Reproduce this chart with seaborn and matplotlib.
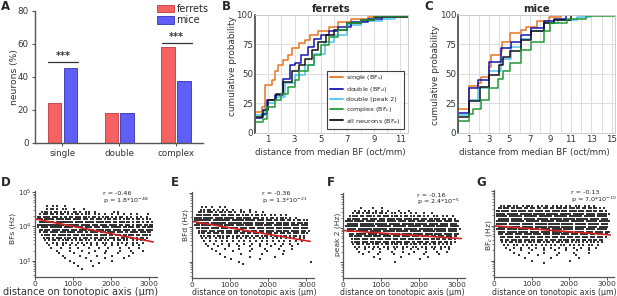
import numpy as np
import pandas as pd
import seaborn as sns
from matplotlib import pyplot as plt
from matplotlib.lines import Line2D
from matplotlib.patches import Patch

W, H = 617, 296

# ---- panel A: response types ----
categories = ["single", "double", "complex"]
ferrets_pct = [24.2, 17.8, 58.0]
mice_pct = [45.3, 17.8, 37.2]

# ---- panels B/C: cumulative distributions (x in oct/mm, y in %) ----
b_single_x = [0, 0.5, 0.76, 1.26, 1.5, 1.77, 2.15, 2.5, 2.8, 3.3, 3.8, 4.2, 4.8, 5.6, 6.3, 7.3, 8.6, 9.3, 11.6]
b_single_y = [18, 22, 40.5, 45, 52, 57.5, 62, 66, 72, 76, 79, 83, 86, 90, 94, 97, 98.6, 100, 100]
b_double_x = [0, 0.5, 0.9, 1.5, 2.1, 2.65, 3.0, 3.5, 4.0, 4.5, 5.0, 5.6, 6.3, 7.3, 8.6, 9.6, 11.6]
b_double_y = [12.5, 16, 28, 32, 46, 57.5, 59, 66, 73, 80, 83, 86, 90, 94, 97, 99, 100]
b_peak2_x = [0, 0.75, 1.5, 2.3, 3.0, 3.8, 4.5, 5.3, 6.0, 7.0, 8.0, 9.6, 10.6, 11.6]
b_peak2_y = [15, 25, 30.6, 42, 49, 57.5, 67, 77, 83, 91.5, 95, 97, 99, 100]
b_complex_x = [0, 0, 0.6, 0.9, 1.5, 2.0, 2.5, 3.0, 3.3, 4.0, 4.5, 5.0, 5.6, 6.3, 7.0, 8.0, 9.0, 11.6]
b_complex_y = [0, 9, 12, 22, 28, 33, 39, 45, 52, 57.5, 66, 74.5, 81.6, 87, 93, 96, 99, 100]
b_all_x = [0, 0.6, 1.0, 1.6, 2.1, 2.8, 3.3, 3.8, 4.3, 4.8, 5.4, 6.0, 7.0, 8.0, 9.0, 11.6]
b_all_y = [13, 19, 28, 33, 43, 52, 57.5, 63, 70, 77, 83, 87, 93, 96, 98.6, 100]

c_single_x = [0, 1.0, 1.9, 2.2, 3.0, 3.2, 4.2, 4.3, 5.1, 6.1, 6.6, 7.7, 8.9, 10.0, 15.3]
c_single_y = [20, 39.7, 42, 47.6, 56, 66, 69, 77, 84.4, 87, 90, 94.6, 98, 100, 100]
c_double_x = [0, 1.0, 1.9, 3.0, 4.2, 5.2, 6.1, 7.1, 8.4, 9.4, 10.5, 15.3]
c_double_y = [17, 38, 45, 60, 71.7, 77, 83, 88.7, 94.6, 97, 100, 100]
c_peak2_x = [0, 1.0, 1.9, 3.0, 4.2, 5.2, 6.1, 7.1, 8.4, 9.7, 11.6, 13.0, 15.3]
c_peak2_y = [15, 28, 38, 52, 63, 73, 80, 86, 93, 96, 98.6, 100, 100]
c_complex_x = [0, 0, 1.0, 1.4, 2.2, 3.0, 3.9, 4.4, 5.1, 6.1, 7.1, 8.4, 9.0, 10.6, 12.5, 15.3]
c_complex_y = [0, 10, 16, 20, 28, 38, 46, 52, 59, 70, 77, 86, 93, 97, 99, 100]
c_all_x = [0, 1.0, 2.1, 3.0, 4.0, 4.4, 5.1, 6.1, 7.1, 8.4, 9.4, 11.0, 15.3]
c_all_y = [13, 27, 39, 49, 57.5, 64.6, 69, 79, 86, 93, 96, 100, 100]

# ---- panels D-G: BF vs. tonotopic position ----
# frequency of each row of dots (Hz), top to bottom
row_freqs = [38055, 32000, 26909, 22627, 19027, 16000, 13454, 11314, 9514, 8000,
             6727, 5657, 4757, 4000, 3364, 2828, 2378, 2000, 1682, 1414,
             1189, 1000, 841, 707, 595, 500]
# one character per 50 um along the tonotopic axis ('#' = a neuron)
d_rows = [
    "......#..#.#...#..............................................",
    "......#.##.#..#.#...#....#....................................",
    "...#.##.#.##.#.#.#..##.#..#.#..#.........#.#..................",
    "..#.###.##.#.##..#.#.##.#.#.#..#.#..#...#..#..#...#..#.....#...",
    ".##.####.###.#.##.##.###.##.#.##.#.#.##.#.#.##..#.#..#.#..#....",
    ".###.#####.####.###.####.###.##.###.#.##.##.#.#.##.#.##.#.#.#..",
    "..########.#########.####.#####.####.###.##.###.##.#.##.#.##.#.",
    ".##############.#######.#####.###.####.####.##.###.#.###.##.##.",
    ".#.####.######.#####.####.####.###.####.#####.##.###.##.##.###.",
    "..##.###.####.####.###.####.###.####.###.####.####.##.###.####.",
    "..#.###.####.###.####.###.##.####.###.####.###.##.####.###.##.",
    "...#.###.##.####.##.###.##.###.##.####.##.###.##.###.##.###.#.",
    "....#.##.#.###.#.##.##.#.###.#.##.##.#.###.#.##.#.##.#.##.#...",
    ".....#.#.##.#.#.##.#.#.##.#.#..#.##.#.#..#.##.#.#..#.#.#.#....",
    "......#..#.#..#.#..#..#.#..#.#..#..#.#..#..#.#..#..#.#..#.....",
    ".......#...#..#...#..#...#...#..#...#...#..#...#...#..#........",
    "........#....#....#...#.....#....#....#.....#....#....#........",
    "...........#......#.....#......#.....#......#.....#.....#......",
    "............#.......#.......#.......#......#.......#...........",
    "..............#........#........#.......#........#.............",
    "...............#..........#.........#.........#...............",
    "..................#..........#..........#.....................",
    "....................#............#.............................",
    "......................#.......#...............................",
    "........................#.....................................",
    "..............................................................",
]
e_rows = [
    ".....#.#..#...#..#............................................",
    "....#.#.##.#.#..#.#..#...#....#...............................",
    "...##.#.###.#.##.#.##.#..#.#..#..#...#.........................",
    "..###.####.###.###.###.##.#.##.#.##.#.#..#.#..#..#.............",
    ".####.#####.####.#####.###.####.###.##.#.##.#.##.#.#..#........",
    ".#########.#########.######.#####.####.###.##.###.##.#.##.#.#..",
    "..#######.########.#######.#####.#####.####.###.###.##.###.##..",
    ".###.#####.#####.#####.####.####.####.####.####.###.####.####..",
    "..##.####.####.####.####.####.###.####.####.###.####.###.####..",
    "...#.###.###.####.###.###.####.###.###.####.###.###.####.###.#.",
    "...#.##.##.###.##.###.##.###.##.###.##.###.##.###.##.###.##.#..",
    "....#.#.##.#.##.#.##.#.##.#.##.#.##.#.##.#.##.#.##.#.##.#.#....",
    ".....#.#.#..#.#.#.#..#.#.#..#.#.#..#.#.#..#.#.#..#.#.#..#.#....",
    "......#..#..#..#..#..#..#..#..#..#..#..#..#..#..#..#..#..#.....",
    ".......#...#...#...#...#...#...#...#...#...#...#...#...#........",
    "........#....#.....#....#.....#....#.....#....#.....#...........",
    "..........#......#......#......#......#......#......#...........",
    "............#........#........#........#........#...............",
    "..............#..........#..........#..........#...............",
    ".................#............#............#...................",
    "....................#..............#...........................",
    "........................#.....................................#",
    "..........................#....................................",
    "..............................................................",
    "..............................................................",
    "..............................................................",
]
f_rows = [
    ".........#.....#....#.........................................",
    "......#.#..#.#...#..#..#.....#....#...........................",
    ".....#.##.#.##.#.#.##.#..#.#..#.#..#..#...#...#...............",
    "...#.###.##.###.#.##.###.#.##.#.##.#.#.##.#.#..#.#..#.#..#....",
    "..##.####.###.####.###.####.###.####.###.###.##.###.##.##.#....",
    ".####.#####.#####.####.#####.####.####.####.####.###.####.###..",
    "..######.#######.######.######.######.######.#####.####.####...",
    ".#######.########.#######.#######.#######.######.######.#####..",
    "..#####.#######.#######.#######.#######.#######.######.#####.#.",
    "..####.######.######.######.######.######.######.#####.#####...",
    "...###.#####.#####.#####.#####.#####.#####.####.####.####.###..",
    "...##.####.####.####.####.####.####.####.####.###.###.###.##...",
    "....#.###.###.###.###.###.###.###.###.###.###.##.##.##.##.#....",
    "....#.###.###.##.###.###.##.###.###.##.###.##.###.##.##.#.#....",
    ".....#.##.#.##.#.##.#.##.#.##.#.##.#.##.#.##.#.##.#.#.#.#......",
    "......#.#..#.#..#.#..#.#..#.#..#.#..#.#..#.#..#.#..#.#.#.......",
    ".......#...#...#...#...#...#...#...#...#...#...#...#...#.......",
    "........#....#.....#.....#.....#.....#.....#.....#....#........",
    "..........#.......#.......#.......#.......#.......#............",
    "................#.............#.............#..................",
    "...................#....................#.....................",
    "...........................#...................................",
    "..............................................................",
    "..............................................................",
    "..............................................................",
    "..............................................................",
]
g_rows = [
    "...#.#.##.#.#..#.##.#..#.#.##..#.#.#..#.#..#.#..#.#..#.........",
    "..##.###.##.###.##.###.##.###.##.###.##.###.##.##.##.##.#.#....",
    ".##.####.###.####.###.####.###.####.###.####.###.###.##.##.#...",
    ".#####.######.######.######.######.######.######.#####.#####.#.",
    ".######.#######.#######.#######.#######.#######.######.#####..",
    "..######.######.######.######.######.######.######.#####.####..",
    ".#######.#######.#######.#######.#######.#######.######.######.",
    ".######.######.######.######.######.######.######.######.####..",
    "..#####.######.######.######.######.######.######.#####.#####..",
    ".#####.#####.#####.#####.#####.#####.#####.#####.#####.#####....",
    "..####.#####.#####.#####.#####.#####.#####.#####.####.####.###..",
    "..###.####.####.####.####.####.####.####.####.####.###.###.##...",
    "...###.###.###.###.###.###.###.###.###.###.###.###.###.###.#....",
    "...##.##.###.##.###.##.###.##.###.##.###.##.##.##.##.##.##.....",
    "....#.#.##.#.##.#.##.#.##.#.##.#.##.#.##.#.#.#.#.#.#.#.#.#.....",
    ".....#.#..#.#..#.#..#.#..#.#..#.#..#.#..#.#..#.#..#.#..#.......",
    "......#...#...#...#...#...#...#...#...#...#...#...#...#........",
    "........#.....#.....#.....#.....#.....#.....#.....#............",
    "..........#.......#.......#.......#.......#.......#............",
    ".............#.........#.........#.........#...................",
    "................#.............#..............#.................",
    "....................#...................#......................",
    "..........................#....................................",
    "..............................................................",
    "..............................................................",
    "..............................................................",
]

# regression lines (um, Hz)
fit_x = [0, 3100]
d_fit = [16600, 3550]
e_fit = [14800, 3900]
f_fit = [8500, 4900]
g_fit = [10000, 5500]

stats_text = [("r = -0.46", r"p = 1.8*10$^{-48}$"),
              ("r = -0.36", r"p = 1.3*10$^{-21}$"),
              ("r = -0.16", r"p = 2.4*10$^{-5}$"),
              ("r = -0.13", r"p = 7.0*10$^{-10}$")]

sns.set_theme(style="white")
plt.rcParams['font.family'] = ['DejaVu Sans']
plt.rcParams['mathtext.fontset'] = 'dejavusans'

fig = plt.figure(figsize=(W / 100, H / 100), dpi=100)


def px_axes(l, t, r, b):
    return fig.add_axes([l / W, 1 - b / H, (r - l) / W, (b - t) / H])


def place_label(ax, axis, cx, cy, box):
    # put an axis label with its centre at pixel (cx, cy)
    l, t, r, b = box
    fx = (cx - l) / (r - l)
    fy = (b - cy) / (b - t)
    lab = ax.xaxis if axis == "x" else ax.yaxis
    lab.label.set_va("center")
    lab.label.set_ha("center")
    lab.set_label_coords(fx, fy)


def panel_letter(x, y, s):
    fig.text(x / W, 1 - y / H, s, fontsize=8.5, fontweight='bold', ha='left', va='center')


# ---------------- A ----------------
boxA = (35, 11, 203, 142.7)
axA = px_axes(*boxA)
dfA = pd.DataFrame({"type": categories * 2,
                    "pct": ferrets_pct + mice_pct,
                    "species": ["ferrets"] * 3 + ["mice"] * 3})
sns.barplot(data=dfA, x="type", y="pct", hue="species", ax=axA,
            palette={"ferrets": "#f46262", "mice": "#5f5ff6"}, saturation=1,
            width=0.56, gap=0.15, legend=False, linewidth=0.6)
for bar, ec in zip(axA.patches, ["#c03a3a"] * 3 + ["#3333b0"] * 3):
    bar.set_edgecolor(ec)
axA.set_xlim(-0.48, 2.47)
axA.set_ylim(0, 80)
axA.set_yticks([0, 20, 40, 60, 80])
axA.set_xlabel("")
axA.set_ylabel("neurons (%)", fontsize=6.6, color="#333333")
place_label(axA, "y", 14, 77, boxA)
for s in ["top", "right"]:
    axA.spines[s].set_visible(False)
for s in ["left", "bottom"]:
    axA.spines[s].set_color("#555555")
    axA.spines[s].set_linewidth(1.0)
axA.tick_params(axis="both", labelsize=6.3, length=2.5, width=0.8, colors="#555555",
                labelcolor="#333333", bottom=True, left=True, pad=2)
for xc, yl in [(0, 49), (2, 60.8)]:
    axA.plot([xc - 0.25, xc + 0.27], [yl, yl], color="#333333", lw=0.9)
    axA.text(xc + 0.01, yl + 0.5, "***", ha="center", va="bottom", fontsize=7,
             fontweight="bold", color="#333333")
fig.legend(handles=[Patch(facecolor="#f46262", edgecolor="#c03a3a", lw=0.6, label="ferrets"),
                    Patch(facecolor="#5f5ff6", edgecolor="#3333b0", lw=0.6, label="mice")],
           loc="upper left", bbox_to_anchor=(155 / W, 1 - 2 / H), frameon=False,
           fontsize=7, handlelength=1.8, handleheight=0.85, handletextpad=0.2,
           labelspacing=0.15, borderpad=0.2, borderaxespad=0)
panel_letter(1, 6, "A")

# ---------------- B & C ----------------
cdf_colors = {"single": "#ea7420", "double": "#1515b0", "peak2": "#4cc3ef",
              "complex": "#1f9a36", "all": "#111111"}


def cdf_panel(ax, curves, xmax, title, xticks):
    ax.set_xlim(0, xmax)
    ax.set_ylim(0, 100)
    ax.set_xticks(range(0, int(xmax) + 1))
    ax.set_xticklabels([str(t) if t in xticks else "" for t in range(0, int(xmax) + 1)])
    ax.set_yticks([0, 25, 50, 75, 100])
    ax.grid(True, color="#dddddd", lw=0.7)
    ax.set_axisbelow(True)
    for key in ["peak2", "single", "double", "all", "complex"]:
        xs, ys = curves[key]
        sns.lineplot(x=xs, y=ys, ax=ax, color=cdf_colors[key], lw=1.1,
                     drawstyle="steps-post", sort=False, estimator=None)
    for s in ["top", "right", "bottom"]:
        ax.spines[s].set_color("#cccccc")
        ax.spines[s].set_linewidth(0.7)
    ax.spines["left"].set_color("#555555")
    ax.spines["left"].set_linewidth(1.3)
    ax.tick_params(axis="both", labelsize=6.2, length=0, pad=1.5, labelcolor="#333333")
    ax.set_xlabel("distance from median BF (oct/mm)", fontsize=6.2, color="#333333")
    ax.set_ylabel("cumulative probability", fontsize=6.4, color="#333333")
    ax.set_title(title, fontsize=7.2, fontweight="bold", pad=2.5)


boxB = (255, 15, 408, 132.7)
axB = px_axes(*boxB)
cdf_panel(axB, {"single": (b_single_x, b_single_y), "double": (b_double_x, b_double_y),
                "peak2": (b_peak2_x, b_peak2_y), "complex": (b_complex_x, b_complex_y),
                "all": (b_all_x, b_all_y)}, 11.6, "ferrets", [1, 3, 5, 7, 9, 11])
place_label(axB, "y", 232.5, 66, boxB)
place_label(axB, "x", 330, 152.5, boxB)
handles = [Line2D([], [], color=cdf_colors[k], lw=1.3) for k in ["single", "double", "peak2", "complex", "all"]]
labels = ["single (BF$_s$)", "double (BF$_d$)", "double (peak 2)", "complex (BF$_c$)", "all neurons (BF$_a$)"]
leg = axB.legend(handles, labels, loc="lower right", bbox_to_anchor=(0.975, 0.035),
                 fontsize=4.6, frameon=True, fancybox=False, handlelength=2.1,
                 handletextpad=0.5, labelspacing=0.42, borderpad=0.45, borderaxespad=0)
leg.get_frame().set_edgecolor("#111111")
leg.get_frame().set_linewidth(0.8)
panel_letter(222, 6, "B")

boxC = (458.3, 15, 614.8, 132.7)
axC = px_axes(*boxC)
cdf_panel(axC, {"single": (c_single_x, c_single_y), "double": (c_double_x, c_double_y),
                "peak2": (c_peak2_x, c_peak2_y), "complex": (c_complex_x, c_complex_y),
                "all": (c_all_x, c_all_y)}, 15.3, "mice", [1, 3, 5, 7, 9, 11, 13, 15])
place_label(axC, "y", 436, 75, boxC)
place_label(axC, "x", 534, 152.5, boxC)
panel_letter(424, 6, "C")

# ---------------- D-G ----------------
scatter_panels = [
    # rows, fit, ylabel, axes box, stats x, letter, ylabel centre, xlabel (centre x, size)
    (d_rows, d_fit, "BFs (Hz)", (35, 191, 157, 277), 0.557, (1, 183, "D"), (13, 228), (80.5, 7.0)),
    (e_rows, e_fit, "BFd (Hz)", (192, 191.7, 314, 278), 0.571, (171, 183, "E"), (185.5, 225), (254, 5.7)),
    (f_rows, f_fit, "peak 2 (Hz)", (343, 193, 465, 278), 0.604, (327, 183, "F"), (337.5, 234), (402.5, 5.7)),
    (g_rows, g_fit, "BF$_c$ (Hz)", (494, 190, 614, 277), 0.64, (476, 183, "G"), (488.5, 235), (554, 5.7)),
]
for i, (rows, fit, ylab, box, tx, letter, ylc, xl) in enumerate(scatter_panels):
    ax = px_axes(*box)
    xs, ys = [], []
    for f, row in zip(row_freqs, rows):
        for j, c in enumerate(row):
            if c == "#":
                xs.append(25 + 50 * j)
                ys.append(f)
    sns.scatterplot(x=xs, y=ys, ax=ax, s=0.7, color="#333333", marker="s",
                    linewidth=0)
    sns.lineplot(x=fit_x, y=fit, ax=ax, color="#d42222", lw=1.2)
    ax.set_yscale("log")
    ax.set_ylim(340, 1.07e5)
    ax.set_xlim(0, 3200)
    ax.set_xticks([0, 1000, 2000, 3000])
    ax.set_yticks([1e3, 1e4, 1e5])
    if i == 0:
        ax.set_yticklabels(["10$^3$", "10$^4$", "10$^5$"])
    else:
        ax.set_yticklabels([])
    ax.tick_params(axis="y", which="minor", length=1.2, width=0.5, colors="#555555", left=True)
    ax.tick_params(axis="y", which="major", labelsize=5.0)
    ax.tick_params(axis="x", which="major", labelsize=5.3)
    ax.tick_params(axis="both", which="major", length=2, width=0.7,
                   colors="#555555", labelcolor="#333333", left=True, bottom=True, pad=0.6)
    for s in ["top", "right"]:
        ax.spines[s].set_visible(False)
    for s in ["left", "bottom"]:
        ax.spines[s].set_color("#555555")
        ax.spines[s].set_linewidth(0.9)
    ax.set_xlabel("distance on tonotopic axis (\u03bcm)", fontsize=xl[1], color="#333333")
    ax.set_ylabel(ylab, fontsize=5.4, color="#333333")
    place_label(ax, "y", ylc[0], ylc[1], box)
    place_label(ax, "x", xl[0], 292.2, box)
    ax.text(tx, 0.975, stats_text[i][0], transform=ax.transAxes, fontsize=4.6,
            ha="left", va="center", color="#222222")
    ax.text(tx, 0.89, stats_text[i][1], transform=ax.transAxes, fontsize=4.6,
            ha="left", va="center", color="#222222")
    panel_letter(*letter)

fig.savefig("out.png", dpi=100)
